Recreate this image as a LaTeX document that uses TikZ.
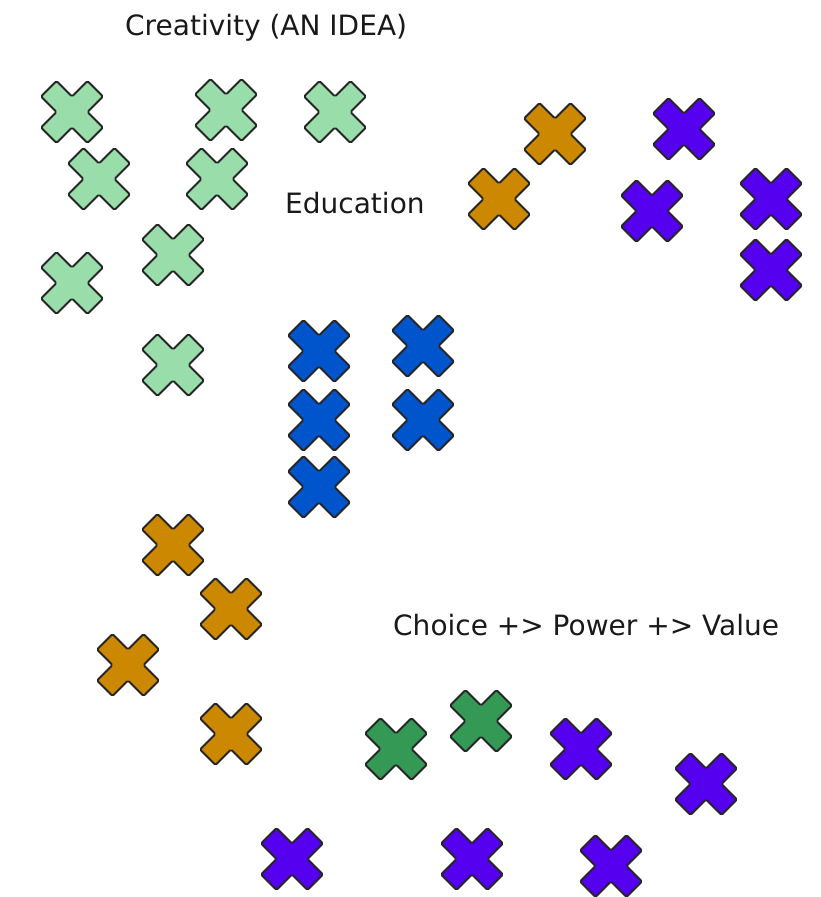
\documentclass[tikz,border=0pt]{standalone}
\usepackage{fontspec}
\setmainfont{DejaVu Sans}
\usepackage{xcolor}
\usepackage{tikz}

\definecolor{ideagreen}{HTML}{99DDAA}
\definecolor{amber}{HTML}{CC8800}
\definecolor{choiceviolet}{HTML}{5500EE}
\definecolor{edublue}{HTML}{0055CC}
\definecolor{valuegreen}{HTML}{339955}

\tikzset{
  outline/.style={draw=black!85, line width=1.8pt, line join=round, rounded corners=1.5pt},
  pics/xmark/.style={code={
    \path[outline, pic actions]
      (-31,-15.5) -- (-15.5,-31) -- (0,-15.5) -- (15.5,-31) -- (31,-15.5) -- (15.5,0)
      -- (31,15.5) -- (15.5,31) -- (0,15.5) -- (-15.5,31) -- (-31,15.5) -- (-15.5,0) -- cycle;
  }},
  caption/.style={inner sep=0pt, anchor=base west, text=black!90,
                  font=\fontsize{28}{33}\selectfont}
}

\begin{document}
\begin{tikzpicture}[x=1pt, y=-1pt]
  \useasboundingbox (0,0) rectangle (820,897);

  % labels
  \node[caption] (idea)   at (125,35)  {Creativity (AN IDEA)};
  \node[caption] (edu)    at (285,213) {Education};
  \node[caption] (choice) at (393,635) {Choice +> Power +> Value};

  % creativity
  \foreach \x/\y [count=\i] in {72/112, 226/110, 335/112, 99/179, 217/179,
                                 173/255, 72/283, 173/365}
    \pic[fill=ideagreen] (idea\i) at (\x,\y) {xmark};

  % education
  \foreach \x/\y [count=\i] in {319/351, 423/346, 319/420, 423/420, 319/487}
    \pic[fill=edublue] (edu\i) at (\x,\y) {xmark};

  % amber
  \foreach \x/\y [count=\i] in {555/134, 499/199, 173/545, 231/609, 128/665, 231/734}
    \pic[fill=amber] (amber\i) at (\x,\y) {xmark};

  % violet
  \foreach \x/\y [count=\i] in {684/129, 652/211, 771/199, 771/270, 581/749,
                                 706/784, 292/859, 472/859, 611/866}
    \pic[fill=choiceviolet] (violet\i) at (\x,\y) {xmark};

  % value
  \foreach \x/\y [count=\i] in {396/749, 481/721}
    \pic[fill=valuegreen] (value\i) at (\x,\y) {xmark};
\end{tikzpicture}
\end{document}
